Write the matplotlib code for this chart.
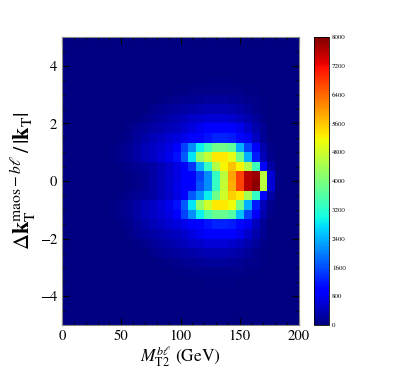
import numpy as np
import matplotlib
matplotlib.use("Agg")
import matplotlib.pyplot as plt

plt.rcParams['font.family'] = ['STIXGeneral', 'DejaVu Serif']
plt.rcParams['mathtext.fontset'] = 'stix'

# Histogram binning (30 x 30 bins)
x_edges = np.linspace(0, 200, 31)
y_edges = np.linspace(-5, 5, 31)

Z = [0] * 30
# counts[j][k]: row j from bottom (y), column k (x)
counts = [
    Z, Z, Z, Z,
    [0,0,0,0,0,0,0,0,0,0,0,0,0,0,0,0,30,30,40,40,40,40,30,30,0,0,0,0,0,0],                       # j=4
    [0,0,0,0,0,0,0,0,0,0,0,0,0,0,50,60,70,80,90,90,90,80,70,50,40,0,0,0,0,0],                    # j=5
    [0,0,0,0,0,0,0,0,0,0,0,0,60,80,110,130,150,170,190,190,190,170,140,110,70,40,0,0,0,0],        # j=6
    [0,0,0,0,0,0,0,0,0,0,0,100,140,180,220,260,300,330,350,350,350,320,260,190,120,60,0,0,0,0],   # j=7
    [0,0,0,0,0,0,0,0,0,60,120,180,240,300,360,430,500,560,600,620,600,560,460,330,190,90,0,0,0,0], # j=8
    [0,0,0,0,0,0,0,0,80,130,190,260,320,380,450,560,680,800,880,920,920,880,760,560,320,130,0,0,0,0], # j=9
    [0,0,0,0,0,0,0,60,120,200,300,400,480,580,680,780,880,1000,1150,1250,1250,1200,1050,800,450,170,0,0,0,0], # j=10
    [0,0,0,0,0,0,50,100,180,280,380,480,580,700,950,1500,2100,2900,3500,3800,3800,3600,2500,1500,850,320,80,0,0,0], # j=11
    [0,0,0,0,0,0,50,100,180,280,380,480,600,750,1100,1700,2800,4200,4800,5300,5300,5100,3900,2400,1200,400,100,0,0,0], # j=12
    [0,0,0,0,0,0,30,60,100,150,200,280,380,500,700,950,1700,2200,2900,3900,4800,5500,5300,4400,3300,1000,250,0,0,0], # j=13
    [0,0,0,0,0,0,0,0,60,90,130,250,400,550,720,880,950,1650,2100,3300,4700,5800,6700,7600,7900,4600,600,60,0,0], # j=14
    [0,0,0,0,0,0,0,0,60,90,130,250,400,550,700,880,950,1500,2100,3300,4600,5900,6700,7600,7800,4600,600,60,0,0], # j=15
    [0,0,0,0,0,0,30,60,100,150,200,280,380,500,700,900,1400,2400,3300,4500,5200,5600,5200,4500,3400,1000,250,0,0,0], # j=16
    [0,0,0,0,0,0,50,100,180,280,380,480,600,750,1100,1700,2800,4200,4700,5300,5300,5000,3900,2400,1200,400,100,0,0,0], # j=17
    [0,0,0,0,0,0,50,100,180,280,380,480,580,700,950,1500,2100,2900,3400,3900,3900,3700,2400,1500,850,320,80,0,0,0], # j=18
    [0,0,0,0,0,0,0,60,120,200,300,400,480,580,680,780,880,1000,1150,1250,1250,1200,1050,800,450,170,0,0,0,0], # j=19
    [0,0,0,0,0,0,0,0,80,130,190,260,320,380,450,560,680,800,880,920,920,880,760,560,320,130,0,0,0,0], # j=20
    [0,0,0,0,0,0,0,0,0,60,120,180,240,300,360,430,500,560,600,620,600,560,460,330,190,90,0,0,0,0], # j=21
    [0,0,0,0,0,0,0,0,0,0,0,100,140,180,220,260,300,330,350,350,350,320,260,190,120,60,0,0,0,0],   # j=22
    [0,0,0,0,0,0,0,0,0,0,0,0,60,80,110,130,150,170,190,190,190,170,140,110,70,40,0,0,0,0],        # j=23
    [0,0,0,0,0,0,0,0,0,0,0,0,0,0,50,60,70,80,90,90,90,80,70,50,40,0,0,0,0,0],                    # j=24
    [0,0,0,0,0,0,0,0,0,0,0,0,0,0,0,0,30,30,40,40,40,40,30,30,0,0,0,0,0,0],                      # j=25
    Z, Z, Z, Z,
]

x_ticks = [0, 50, 100, 150, 200]
y_ticks = [-4, -2, 0, 2, 4]
cbar_ticks = [0, 800, 1600, 2400, 3200, 4000, 4800, 5600, 6400, 7200, 8000]

fig = plt.figure(figsize=(3.99, 3.72), dpi=100)
ax = fig.add_axes([62/399, 47/372, 237/399, 288/372])
cax = fig.add_axes([314/399, 47/372, 15/399, 288/372])

mesh = ax.pcolormesh(x_edges, y_edges, np.array(counts, dtype=float),
                     cmap='jet', vmin=0, vmax=8000)
ax.set_xlim(0, 200)
ax.set_ylim(-5, 5)
ax.set_xticks(x_ticks)
ax.set_yticks(y_ticks)
ax.set_xticks(np.arange(0, 201, 10), minor=True)
ax.set_yticks(np.arange(-5, 5.01, 0.5), minor=True)
ax.tick_params(which='both', direction='in', top=True, right=True, labelsize=10.5)
ax.tick_params(which='major', length=5, width=0.8)
ax.tick_params(which='minor', length=2.5, width=0.6)
for s in ax.spines.values():
    s.set_color('#888888')

ax.set_xlabel(r'$M_{\rm T2}^{b\ell}$ (GeV)', fontsize=12.5, labelpad=1)
ax.set_ylabel(r'$\Delta\mathbf{k}_{\rm T}^{{\rm maos}-b\ell}\,/\,|\mathbf{k}_{\rm T}|$',
              fontsize=16, labelpad=1)

cb = fig.colorbar(mesh, cax=cax, ticks=cbar_ticks)
cb.ax.tick_params(labelsize=5, length=0, pad=2)
cb.outline.set_linewidth(0.6)

fig.savefig('out.png', dpi=100)
